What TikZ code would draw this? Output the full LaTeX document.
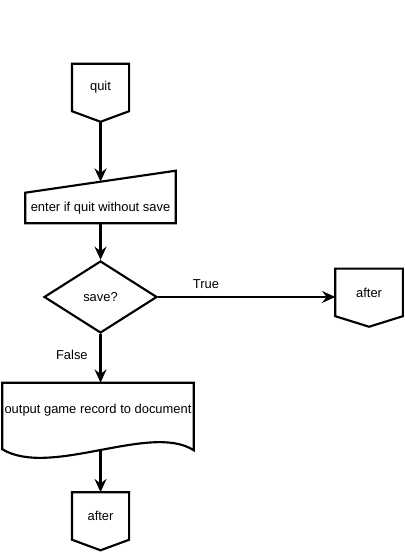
\documentclass[tikz,border=0pt]{standalone}
\usepackage{fontspec}
\setmainfont{Liberation Sans}
\usepackage{tikz}
\usetikzlibrary{shapes.geometric, arrows, arrows.meta}
\tikzstyle{offpage} = [rectangle, minimum width=42.4pt, minimum height=35.25pt, text centered, append after command={\pgfextra{\draw[line width=1.6pt] (\tikzlastnode.north west) -- (\tikzlastnode.north east) -- (\tikzlastnode.south east) -- ([yshift=-7.9pt]\tikzlastnode.south) -- (\tikzlastnode.south west) -- cycle;}}]
\tikzstyle{manual} = [rectangle, minimum width=112.5pt, minimum height=22.5pt, text centered, append after command={\pgfextra{\draw[line width=1.6pt] (\tikzlastnode.south west) -- (\tikzlastnode.south east) -- ([yshift=16.5pt]\tikzlastnode.north east) -- (\tikzlastnode.north west) -- cycle;}}]
\tikzstyle{decision} = [diamond, inner sep=0pt, minimum width=84.75pt, minimum height=54pt, text centered, draw=black, line width=1.6pt]
\tikzstyle{docu} = [rectangle, inner sep=0pt, minimum width=143.25pt, minimum height=40.5pt, text centered, append after command={\pgfextra{\draw[line width=1.6pt] (\tikzlastnode.north west) -- (\tikzlastnode.north east) -- ([yshift=-9.75pt]\tikzlastnode.south east) .. controls ([shift={(39.4pt,11.25pt)}]\tikzlastnode.south) and ([shift={(-35.6pt,-30.75pt)}]\tikzlastnode.south) .. ([yshift=-9pt]\tikzlastnode.south west) -- cycle;}}]
\tikzstyle{lbl} = [rectangle, text centered]
\tikzstyle{arrow} = [line width=1.6pt,->,>={Stealth[length=10pt,width=9pt,inset=3.5pt]}]

\begin{document}
\begin{tikzpicture}[node distance=2cm, every node/.style={font=\fontsize{9.7}{11.6}\selectfont}]
		
		\useasboundingbox (0,0) rectangle (303pt,-414pt);
		
		\node (quit) [offpage] at (75.4pt,-65.6pt) {quit};
		\node (input) [manual, below of=quit, yshift=-33.47pt] {enter if quit without save};
		\node (save) [decision, below of=input, yshift=-9.85pt] {save?};
		\node (after1) [offpage, minimum width=50.25pt, right of=save, xshift=144.5pt, yshift=3.4pt] {after};
		\node (record) [docu, below of=save, yshift=-27.85pt, xshift=-1.9pt] {output game record to document};
		\node (after2) [offpage, below of=record, yshift=-22.6pt, xshift=1.9pt] {after};
		
		\draw [arrow] ([yshift=-7.9pt]quit.south) -- ([yshift=8.25pt]input.north);
		\draw [arrow] (input.south) -- (save.north);
		\draw [arrow] (save.east) -- node (truelbl) [lbl, pos=0.27, above, yshift=2pt] {True} (save.east -| after1.west);
		\draw [arrow] (save.south) -- node (falselbl) [lbl, pos=0.42, left, xshift=-5.5pt] {False} (save.south |- record.north);
		\draw [arrow] ([yshift=-9.7pt]after2 |- record.south) -- (after2.north);
		
		\end{tikzpicture}
\end{document}
